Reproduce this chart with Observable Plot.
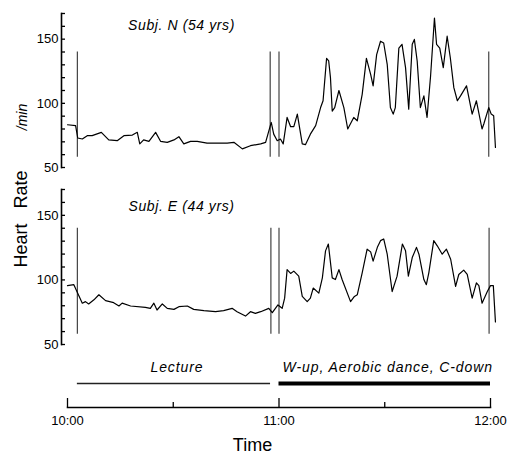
<!DOCTYPE html>
<html>
<head>
<meta charset="utf-8">
<script src="https://cdn.jsdelivr.net/npm/d3@7"></script>
<script src="https://cdn.jsdelivr.net/npm/@observablehq/plot@0.6"></script>
<style>
  body { margin: 0; background: #fff; }
  #wrap { position: relative; width: 513px; height: 454px; font-family: "Liberation Sans", Arial, sans-serif; color: #000; }
  #wrap > .p { position: absolute; left: 0; }
  .vlab { position: absolute; white-space: pre; transform: translate(-50%, -50%) rotate(-90deg); line-height: 1; }
</style>
</head>
<body>
<div id="wrap"></div>
<script>
// Time in minutes after 10:00
const timeN = [0, 2.3, 2.9, 4.2, 5.6, 7, 9.6, 11.7, 14.1, 16, 18.4, 19.8, 20.5, 21.6, 23.1, 25, 26.4, 28.3, 30.2, 31.6, 33, 34.9, 36.8, 39.6, 42.5, 45.3, 47.2, 49.6, 51.9, 54.8, 56.2, 57.8, 58.5, 59.5, 60.4, 61.2, 62.3, 63.3, 64.2, 65.2, 66.6, 67.5, 68.9, 70.4, 71.8, 72.5, 73.5, 74.1, 74.6, 75.1, 75.8, 77, 78.4, 79.5, 81.2, 82.2, 83.6, 84.8, 86, 86.7, 87.7, 88.8, 89.7, 90.7, 91.6, 92.4, 93, 94, 94.9, 95.9, 96.8, 97.8, 98.4, 99.2, 100.1, 101.1, 102, 103, 104.1, 104.7, 105.6, 106.6, 107.7, 108.6, 109.6, 110.6, 111.5, 113.2, 114.8, 116, 117.6, 118.1, 119.5, 120.2, 120.9, 121.4];
const hrN = [83.3, 82.6, 73, 72.2, 74.8, 74.8, 77.4, 71.5, 70.9, 74.8, 75.3, 77.4, 68.4, 71.5, 70.4, 77.4, 70.4, 69.6, 71.5, 74, 68.4, 70.4, 70.4, 69, 69, 69, 69.6, 64.5, 67, 68.4, 69.6, 85.1, 76, 70.9, 72.2, 68.4, 89, 81.8, 81.8, 91.6, 68.4, 67.8, 76, 82.6, 96.7, 102, 135, 133, 120, 94, 96.7, 110, 96.7, 80, 89, 86.4, 107, 135, 122.6, 113.6, 138, 148.4, 147, 130.4, 96.7, 91.6, 96.7, 143, 146, 127.8, 95.5, 146, 149.8, 133, 96.7, 105.8, 89, 121.3, 166.5, 146, 143, 127.8, 152.3, 135.5, 112.2, 102, 105.8, 113.6, 91.6, 102, 80, 83.9, 96.7, 91.6, 90.3, 65.7];

const timeE = [0, 1.8, 2.8, 4.2, 5.1, 6, 7.5, 8.9, 10.8, 13.1, 14.6, 15.5, 17.9, 22.1, 23.5, 24.5, 25.4, 26.9, 28.3, 30.2, 31.6, 34, 35.8, 38.7, 42, 44.3, 46.7, 48.1, 50.5, 51.9, 53.3, 54.8, 57.1, 58.1, 59.7, 60.9, 61.6, 62.3, 63.3, 64.2, 65.6, 66.6, 68, 68.9, 69.7, 71.3, 72.3, 73.2, 74, 75.1, 76, 77, 77.9, 80.3, 81.4, 82.2, 83.6, 85, 86, 86.7, 87.9, 88.8, 89.7, 90.7, 92.1, 93.5, 95, 95.9, 96.7, 97.8, 99, 99.7, 101.1, 101.8, 102.5, 103.9, 104.9, 106.3, 107.5, 108.7, 110.1, 111, 112.4, 113.4, 114.8, 116, 116.7, 117.6, 119.1, 120, 120.8, 121.4];
const hrE = [95.6, 96.3, 90.3, 82, 83.2, 81.4, 84.6, 88.5, 84, 82.4, 79.8, 82, 79.8, 78.8, 78, 82, 76.7, 81.4, 78, 77.2, 79.3, 79.8, 77.2, 76.2, 75.4, 76.2, 78, 75.4, 72, 75.4, 74.1, 75.4, 78, 74.6, 80.6, 78, 85.9, 108, 105, 106.8, 102.9, 87.2, 83.2, 85.9, 93.7, 89.8, 101.6, 122.5, 127.8, 101.6, 100.3, 108, 100.3, 83.2, 87.2, 88.5, 105.5, 123.8, 121.7, 114.6, 125.2, 130.4, 131.7, 119.9, 91, 102.9, 127.8, 122.5, 102.9, 117.3, 125.2, 119.9, 100.3, 96.3, 105.5, 130.4, 126.4, 119.9, 123.8, 116, 95, 104.2, 107.6, 104.2, 85.9, 97.7, 95.6, 82, 91, 95.6, 95.6, 67.5];

// Event markers (vertical lines), minutes after 10:00
const markersN = [2.8, 57.5, 60, 119.5];
const markersE = [2.8, 57.7, 60, 119.6];
const markerLow = 58, markerHigh = 140;

const yTicks = [50, 60, 70, 80, 90, 100, 110, 120, 130, 140, 150, 160, 170];
const yLabels = [50, 100, 150];
const yDomain = [50, 170];

const xMajor = [0, 60, 120];
const xMinor = [30, 90];
const xLabels = ["10:00", "11:00", "12:00"];

const activities = [
  {label: "Lecture", start: 2.8, end: 57.6, width: 1.5},
  {label: "W-up, Aerobic dance, C-down", start: 60, end: 120, width: 4}
];

const titles = ["Subj. N (54 yrs)", "Subj. E (44 yrs)"];

const wrap = document.getElementById("wrap");
const FONT = '"Liberation Sans", Arial, sans-serif';

function spaceItalics(svg, px) {
  svg.querySelectorAll('g[font-style="italic"] text').forEach(t => t.style.letterSpacing = px + "px");
}

function panel(time, hr, markers, title, top, titleDy, mb) {
  const data = time.map((t, i) => ({t, hr: hr[i]}));
  const chart = Plot.plot({
    width: 513, height: 175,
    marginLeft: 61, marginRight: 23, marginTop: 13, marginBottom: mb,
    style: {fontFamily: FONT, fontSize: "13px", color: "#000", background: "transparent", overflow: "visible"},
    x: {domain: [0, 120], range: [67, 490], axis: null},
    y: {domain: yDomain},
    marks: [
      Plot.frame({anchor: "left", stroke: "#000", strokeWidth: 1.6}),
      Plot.axisY({ticks: yTicks, tickSize: -4, fill: "none", label: null, strokeWidth: 1.3}),
      Plot.axisY({ticks: yLabels, tickSize: 0, tickPadding: 3, label: null, fontSize: 13}),
      Plot.ruleX(markers, {x: d => d, y1: markerLow, y2: markerHigh, stroke: "#444", strokeWidth: 1.2}),
      Plot.line(data, {x: "t", y: "hr", stroke: "#000", strokeWidth: 1.2}),
      Plot.text([title], {frameAnchor: "top-left", dx: 120, dy: titleDy, text: d => d, fontStyle: "italic", fontSize: 14, textAnchor: "middle", lineAnchor: "middle"})
    ]
  });
  spaceItalics(chart, 0.6);
  chart.classList.add("p");
  chart.style.top = top + "px";
  wrap.appendChild(chart);
}

panel(timeN, hrN, markersN, titles[0], 0, 12, 8);
panel(timeE, hrE, markersE, titles[1], 176, 17, 7);

const axisChart = Plot.plot({
  width: 513, height: 104,
  marginLeft: 67, marginRight: 23, marginTop: 9, marginBottom: 47,
  style: {fontFamily: FONT, fontSize: "13px", color: "#000", background: "transparent", overflow: "visible"},
  x: {domain: [0, 120]},
  marks: [
    Plot.frame({anchor: "bottom", stroke: "#000", strokeWidth: 1.6}),
    Plot.axisX({ticks: xMajor, tickSize: -9, fill: "none", label: null, strokeWidth: 1.3}),
    Plot.axisX({ticks: xMinor, tickSize: -5, fill: "none", label: null, strokeWidth: 1.3}),
    Plot.axisX({ticks: xMajor, tickSize: 0, tickPadding: 8, tickFormat: (d, i) => xLabels[i], label: null, fontSize: 13}),
    Plot.ruleY(activities.slice(0, 1), {y: null, x1: "start", x2: "end", stroke: "#222", strokeWidth: activities[0].width}),
    Plot.ruleY(activities.slice(1), {y: null, x1: "start", x2: "end", stroke: "#000", strokeWidth: activities[1].width}),
    Plot.text(activities, {x: d => (d.start + d.end) / 2, text: "label", frameAnchor: "top", dy: 8, dx: 3, fontStyle: "italic", fontSize: 14, lineAnchor: "middle"}),
    Plot.text(["Time"], {frameAnchor: "bottom-left", dx: 185, dy: 38, text: d => d, fontSize: 18, textAnchor: "middle", lineAnchor: "middle"})
  ]
});
spaceItalics(axisChart, 0.9);
axisChart.classList.add("p");
axisChart.style.top = "350px";
wrap.appendChild(axisChart);

function vlabel(text, x, y, size, italic) {
  const s = document.createElement("div");
  s.className = "vlab";
  s.textContent = text;
  s.style.left = x + "px";
  s.style.top = y + "px";
  s.style.fontSize = size + "px";
  if (italic) s.style.fontStyle = "italic";
  wrap.appendChild(s);
}
vlabel("Heart   Rate", 21, 219, 18, false);
vlabel("/min", 22, 117, 14, true);
</script>
</body>
</html>
